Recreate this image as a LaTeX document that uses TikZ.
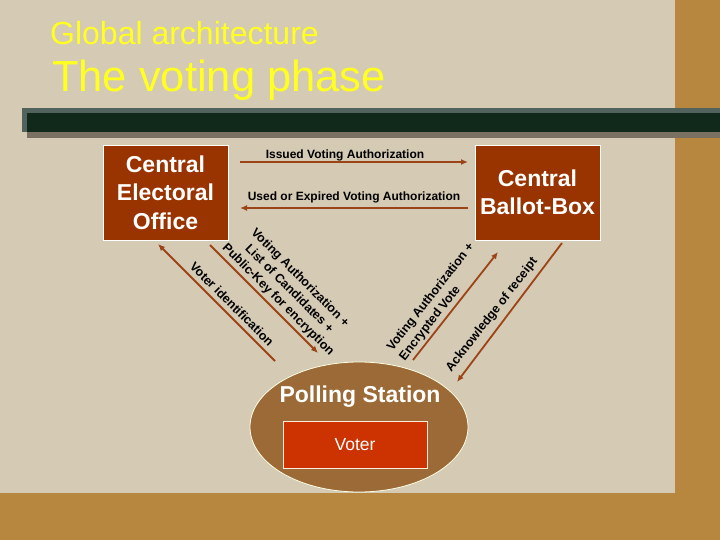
\documentclass[tikz,border=0pt]{standalone}
\usepackage{fontspec}
\setmainfont{Liberation Sans}
\usetikzlibrary{arrows.meta,shapes.geometric}
\definecolor{beige}{HTML}{D5CAB4}
\definecolor{wood}{HTML}{B7873F}
\definecolor{rust}{HTML}{993300}
\definecolor{arrowc}{HTML}{9C4418}
\definecolor{polling}{HTML}{9B6A36}
\definecolor{voterc}{HTML}{CC3300}
\definecolor{barg}{HTML}{10291B}
\definecolor{barb}{HTML}{52625C}
\definecolor{bars}{HTML}{7A7162}
\definecolor{titley}{HTML}{FFFF22}
\tikzset{
  box/.style={draw=white, line width=0.8pt, fill=rust, text=white, align=center,
    font=\bfseries\fontsize{23}{28.5}\selectfont, inner sep=0pt},
  arr/.style={draw=arrowc, line width=1.8pt, -{Latex[length=7pt,width=6pt]}},
  lbl/.style={font=\bfseries\fontsize{12}{14}\selectfont, inner sep=0pt},
  dlbl/.style={font=\bfseries\fontsize{12.5}{15.5}\selectfont, inner sep=0pt},
  ttl/.style={anchor=base west, inner sep=0pt, text=titley}
}
\begin{document}
\begin{tikzpicture}[x=1pt,y=-1pt]
\useasboundingbox (0,0) rectangle (720,540);
% background
\fill[wood] (0,0) rectangle (720,540);
\fill[beige] (0,0) rectangle (675,493);
% green bar
\fill[bars] (27,128) rectangle (720,138);
\fill[barb] (22,108) rectangle (720,132);
\fill[barg] (27,113) rectangle (720,132);
% titles
\node[ttl, font=\fontsize{32}{36}\selectfont] (t1) at (50,45) {Global architecture};
\node[ttl, font=\fontsize{43.5}{48}\selectfont] (t2) at (52,92) {The voting phase};
% boxes
\node[box, minimum width=125pt, minimum height=95pt] (ceo) at (165.5,192.5) {Central\\Electoral\\Office};
\node[box, minimum width=125pt, minimum height=95pt] (cbb) at (537.5,192.5) {Central\\Ballot-Box};
% polling station
\node[ellipse, draw=white!90!yellow, line width=0.8pt, fill=polling, minimum width=218pt, minimum height=130pt] (ps) at (359,427) {};
\node[font=\bfseries\fontsize{23}{26}\selectfont, text=white] (pst) at (360,397) {Polling Station};
\node[draw=white!85!orange, line width=0.7pt, fill=voterc, minimum width=144pt, minimum height=47pt,
  font=\fontsize{17.5}{20}\selectfont, text=white] (voter) at (355,444.5) {Voter};
% connector end points
\coordinate (h1s) at (240,162);
\coordinate (h1e) at (468,162);
\coordinate (h2s) at (468,208);
\coordinate (h2e) at (240,208);
\coordinate (l1s) at (210,245);
\coordinate (l1e) at (318,353);
\coordinate (l2s) at (158,244);
\coordinate (l2e) at (275,361);
\coordinate (r1s) at (413,360);
\coordinate (r1e) at (498,252);
\coordinate (r2s) at (562,243);
\coordinate (r2e) at (457,382);
% connectors
\draw[arr] (h1s) -- (h1e);
\draw[arr] (h2s) -- (h2e);
\draw[arr] (l1s) -- (l1e);
\draw[arr] (l2e) -- (l2s);
\draw[arr] (r1s) -- (r1e);
\draw[arr] (r2s) -- (r2e);
% labels
\node[lbl] (lb1) at (345,155) {Issued Voting Authorization};
\node[lbl] (lb2) at (354,197) {Used or Expired Voting Authorization};
\node[dlbl, rotate=-45, align=center] (lb3) at (289,289) {Voting Authorization +\\List of Candidates +\\Public-Key for encryption};
\node[dlbl, rotate=-45] (lb4) at (232,304) {Voter identification};
\node[dlbl, rotate=52, align=left] (lb5) at (437,302) {Voting Authorization +\\Encrypted Vote};
\node[dlbl, rotate=52] (lb6) at (492,315) {Acknowledge of receipt};
\end{tikzpicture}
\end{document}
